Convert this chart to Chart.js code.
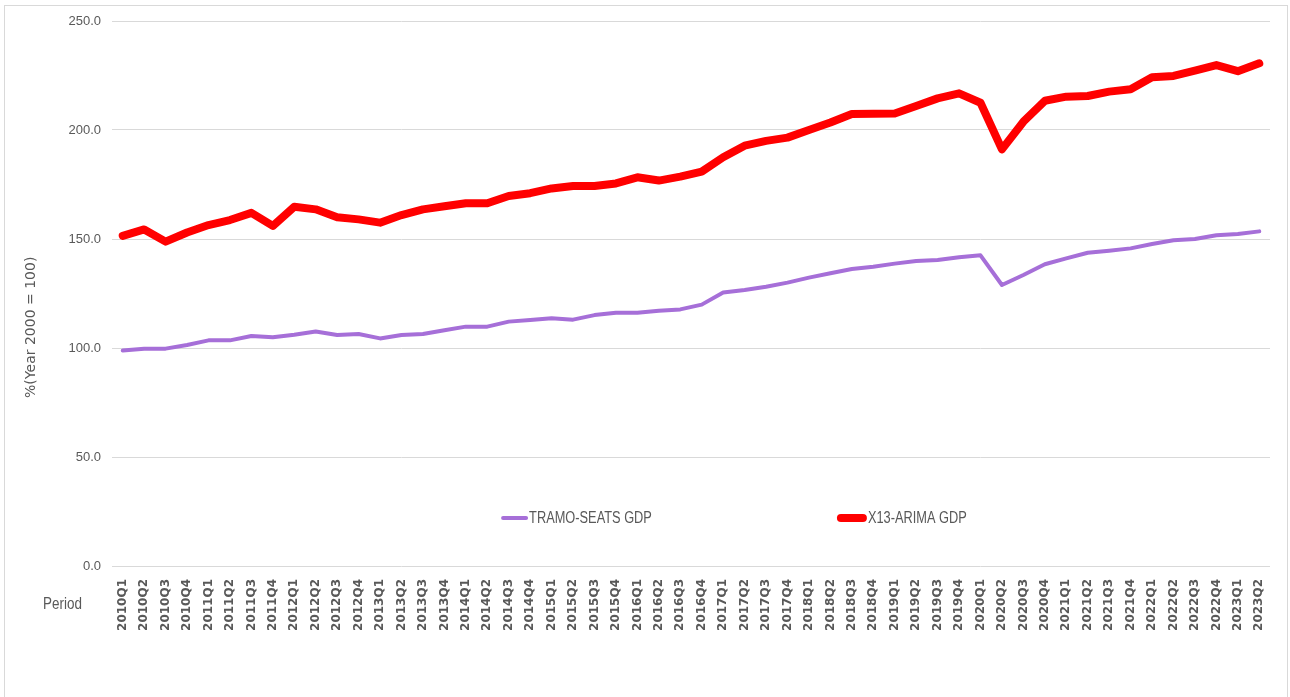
<!DOCTYPE html>
<html>
<head>
<meta charset="utf-8">
<script src="https://cdn.jsdelivr.net/npm/chart.js@4/dist/chart.umd.min.js"></script>
<style>
    body { margin: 0; background: #fff; }
    #wrap { position: relative; width: 1290px; height: 697px; }
</style>
</head>
<body>
<div id="wrap"><canvas id="myChart"></canvas></div>
<script>
var periods = [
    '2010Q1', '2010Q2', '2010Q3', '2010Q4',
    '2011Q1', '2011Q2', '2011Q3', '2011Q4',
    '2012Q1', '2012Q2', '2012Q3', '2012Q4',
    '2013Q1', '2013Q2', '2013Q3', '2013Q4',
    '2014Q1', '2014Q2', '2014Q3', '2014Q4',
    '2015Q1', '2015Q2', '2015Q3', '2015Q4',
    '2016Q1', '2016Q2', '2016Q3', '2016Q4',
    '2017Q1', '2017Q2', '2017Q3', '2017Q4',
    '2018Q1', '2018Q2', '2018Q3', '2018Q4',
    '2019Q1', '2019Q2', '2019Q3', '2019Q4',
    '2020Q1', '2020Q2', '2020Q3', '2020Q4',
    '2021Q1', '2021Q2', '2021Q3', '2021Q4',
    '2022Q1', '2022Q2', '2022Q3', '2022Q4',
    '2023Q1', '2023Q2'
];

var tramoSeats = [
    98.8, 99.7, 99.7, 101.4,
    103.5, 103.5, 105.5, 104.9,
    106.1, 107.6, 106.0, 106.4,
    104.4, 106.0, 106.4, 108.1,
    109.8, 109.8, 112.1, 112.8,
    113.6, 113.0, 115.1, 116.2,
    116.2, 117.1, 117.7, 119.9,
    125.5, 126.6, 128.1, 130.0,
    132.3, 134.3, 136.2, 137.3,
    138.7, 139.9, 140.4, 141.6,
    142.5, 128.9, 133.5, 138.4,
    141.1, 143.7, 144.6, 145.7,
    147.7, 149.4, 150.0, 151.7,
    152.3, 153.5
];

var x13Arima = [
    151.4, 154.4, 148.8, 153.0,
    156.4, 158.7, 162.0, 156.0,
    164.8, 163.6, 160.0, 159.0,
    157.5, 161.0, 163.6, 165.0,
    166.4, 166.4, 169.7, 171.0,
    173.2, 174.3, 174.3, 175.5,
    178.3, 176.8, 178.6, 180.9,
    187.5, 192.8, 195.0, 196.5,
    200.0, 203.4, 207.3, 207.4,
    207.6, 211.0, 214.5, 216.8,
    212.5, 191.1, 203.8, 213.4,
    215.3, 215.6, 217.6, 218.7,
    224.2, 224.8, 227.2, 229.8,
    227.0, 230.6
];

var yTitle = '%(Year 2000 = 100)';
var xTitle = 'Period';
var textColor = '#595959';
var sansFont = "'Liberation Sans', Arial, sans-serif";

// narrow-looking text: plain sans squeezed horizontally
function narrowText(ctx, text, x, y, squeeze) {
    ctx.save();
    ctx.translate(x, y);
    ctx.scale(squeeze, 1);
    ctx.fillText(text, 0, 0);
    ctx.restore();
}

// frame, axis titles and the legend are drawn by hand
var extrasPlugin = {
    id: 'extras',
    beforeDraw: function (chart) {
        var ctx = chart.ctx;
        ctx.save();
        ctx.strokeStyle = '#d9d9d9';
        ctx.lineWidth = 1;
        ctx.strokeRect(4.5, 5.5, 1283, 720);
        ctx.restore();
    },
    afterDraw: function (chart) {
        var ctx = chart.ctx;
        var area = chart.chartArea;
        ctx.save();
        ctx.fillStyle = textColor;

        ctx.save();
        ctx.translate(31, area.top + (area.bottom - area.top) * 0.562);
        ctx.rotate(-Math.PI / 2);
        ctx.font = "14px 'DejaVu Sans', sans-serif";
        ctx.textAlign = 'center';
        ctx.textBaseline = 'middle';
        ctx.fillText(yTitle, 0, 0);
        ctx.restore();

        ctx.font = '16px ' + sansFont;
        ctx.textAlign = 'left';
        ctx.textBaseline = 'middle';
        narrowText(ctx, xTitle, 43, 605, 0.84);

        var legendY = area.top + (area.bottom - area.top) * 0.912;
        var starts = [0.336, 0.626];
        var lengths = [27, 30];
        chart.data.datasets.forEach(function (ds, i) {
            var x0 = area.left + (area.right - area.left) * starts[i];
            ctx.strokeStyle = ds.borderColor;
            ctx.lineWidth = ds.borderWidth;
            ctx.lineCap = 'round';
            ctx.beginPath();
            ctx.moveTo(x0 + ds.borderWidth / 2, legendY);
            ctx.lineTo(x0 + lengths[i] - ds.borderWidth / 2, legendY);
            ctx.stroke();
            ctx.fillStyle = textColor;
            ctx.font = '16px ' + sansFont;
            narrowText(ctx, ds.label, x0 + lengths[i] + 1, legendY + 1, 0.8);
        });
        ctx.restore();
    }
};

var ctx = document.getElementById('myChart').getContext('2d');
var myChart = new Chart(ctx, {
    type: 'line',
    data: {
        labels: periods,
        datasets: [{
            label: 'TRAMO-SEATS GDP',
            data: tramoSeats,
            borderColor: '#a66fd8',
            backgroundColor: '#a66fd8',
            borderWidth: 4,
            pointRadius: 0,
            tension: 0,
            borderJoinStyle: 'round',
            borderCapStyle: 'round'
        }, {
            label: 'X13-ARIMA GDP',
            data: x13Arima,
            borderColor: '#ff0000',
            backgroundColor: '#ff0000',
            borderWidth: 8,
            pointRadius: 0,
            tension: 0,
            borderJoinStyle: 'round',
            borderCapStyle: 'round'
        }]
    },
    options: {
        responsive: true,
        maintainAspectRatio: false,
        animation: false,
        layout: { padding: { top: 21, right: 20, left: 0, bottom: 0 } },
        plugins: {
            legend: { display: false },
            tooltip: { enabled: false }
        },
        scales: {
            x: {
                offset: true,
                grid: { display: false, drawTicks: false },
                border: { display: false },
                ticks: {
                    autoSkip: false,
                    minRotation: 90,
                    maxRotation: 90,
                    padding: 13,
                    color: textColor,
                    font: { family: "'DejaVu Sans', sans-serif", size: 12, weight: 'bold' }
                },
                afterFit: function (scale) { scale.height = 131; }
            },
            y: {
                min: 0,
                max: 250,
                grid: { color: '#d9d9d9', drawTicks: false },
                border: { display: false },
                ticks: {
                    stepSize: 50,
                    padding: 11,
                    color: textColor,
                    font: { family: sansFont, size: 13 },
                    callback: function (v) { return v.toFixed(1); }
                },
                afterFit: function (scale) { scale.width = 112; }
            }
        }
    },
    plugins: [extrasPlugin]
});
</script>
</body>
</html>
